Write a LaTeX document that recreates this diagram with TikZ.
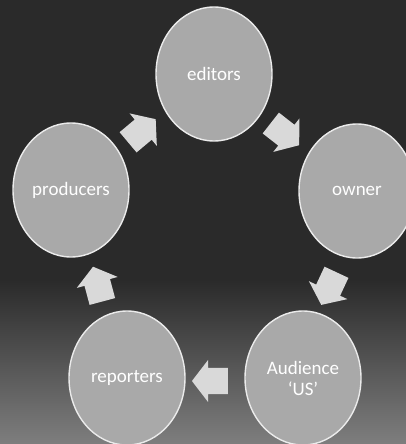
\documentclass[tikz,border=0pt]{standalone}
\usepackage{fontspec}
\setmainfont{Carlito}
\usetikzlibrary{shapes.geometric,shapes.arrows}
\definecolor{bgdark}{HTML}{2A2A2A}
\definecolor{bglight}{HTML}{7E7E7E}
\definecolor{circfill}{HTML}{A9A9A9}
\definecolor{arrfill}{HTML}{D9D9D9}
\tikzset{
  bubble/.style={ellipse, draw=white!92!black, line width=1.4pt, fill=circfill,
    minimum width=116pt, minimum height=134pt, inner sep=0pt,
    text=white, font=\fontsize{19}{21}\selectfont, align=center},
  flow/.style={single arrow, fill=arrfill, draw=none, minimum height=36pt,
    inner xsep=0pt, inner ysep=13pt, single arrow head extend=8pt,
    single arrow tip angle=105, single arrow head indent=0pt, anchor=center}
}
\begin{document}
\begin{tikzpicture}[x=1pt,y=-1pt]
\useasboundingbox (0,0) rectangle (406,444);
\fill[bgdark] (0,0) rectangle (406,444);
\shade[top color=bgdark, bottom color=bglight] (0,280) rectangle (406,444);
\node[bubble] (ed) at (214,74) {editors};
\node[bubble] (ow) at (357,191) {owner};
\node[bubble] (au) at (303,378) {Audience\\\textquoteleft US\textquoteright};
\node[bubble] (re) at (127,378) {reporters};
\node[bubble] (pr) at (71,190) {producers};
\node[flow, rotate=40] (a1) at (138,134) {};
\node[flow, rotate=-38] (a2) at (281,131) {};
\node[flow, rotate=-115] (a3) at (331,284) {};
\node[flow, rotate=180] (a4) at (215,381) {};
\node[flow, rotate=105] (a5) at (99,289) {};
\end{tikzpicture}
\end{document}
